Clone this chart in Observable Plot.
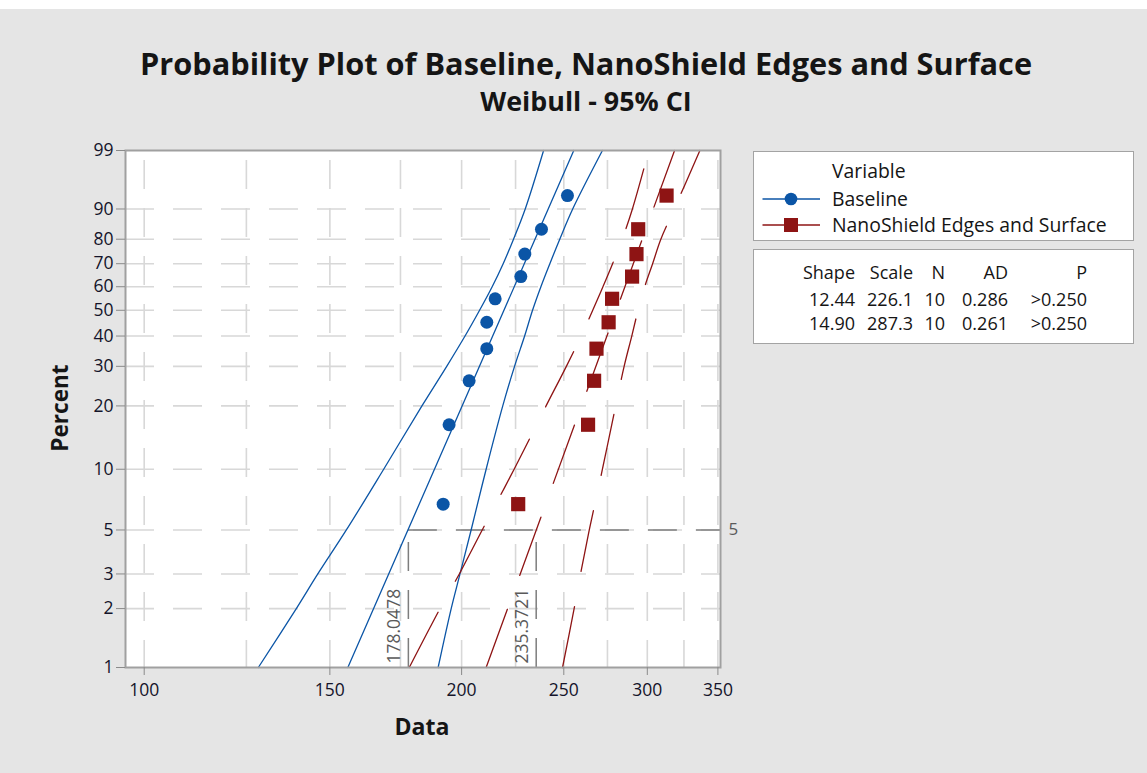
<!DOCTYPE html>
<html><head><meta charset="utf-8">
<script src="https://cdn.jsdelivr.net/npm/d3@7"></script>
<script src="https://cdn.jsdelivr.net/npm/@observablehq/plot@0.6"></script>
<style>
body{margin:0;background:#fff;font-family:"Open Sans",sans-serif;}
#wrap{position:relative;width:1147px;height:773px;overflow:hidden;background:#fff}
#panel{position:absolute;left:0px;top:9px;right:0;bottom:0;background:#e5e5e5}
.t{position:absolute;white-space:nowrap;line-height:1;color:#151515}
.c{transform:translate(-50%,-50%)}
.l{transform:translate(0,-50%)}
.r{transform:translate(-100%,-50%)}
.box{position:absolute;background:#fff;border:1.5px solid #a3a3a3;box-sizing:border-box}
</style></head>
<body><div id="wrap"><div id="panel"></div></div>
<script>
// ---------- data ----------
const titleText = "Probability Plot of Baseline, NanoShield Edges and Surface";
const subtitleText = "Weibull - 95% CI";
const seriesNames = ["Baseline", "NanoShield Edges and Surface"];
const plotPercents = [6.73, 16.35, 25.96, 35.58, 45.19, 54.81, 64.42, 74.04, 83.65, 93.27];
const baselineData = [192.1, 194.6, 203.3, 211.3, 211.3, 215.2, 227.6, 229.6, 238.1, 252.0];
const nanoData = [226.3, 263.6, 267.1, 268.5, 275.7, 277.8, 290.2, 293.0, 294.1, 312.9];
const fitPercents = [1, 99];
const baselineFit = [156.0, 255.5];
const nanoFit = [211.0, 318.4];
const ciPercents = [1, 2, 3, 5, 10, 20, 30, 40, 50, 60, 70, 80, 90, 99];
const baselineLower = [128.3, 139.4, 146.1, 155.5, 168.7, 183.4, 193.6, 201.5, 208.0, 213.8, 219.0, 224.0, 229.8, 239.2];
const baselineUpper = [190.0, 195.5, 199.3, 204.2, 211.0, 218.8, 224.5, 229.5, 233.5, 237.8, 242.5, 247.8, 254.9, 272.0];
const nanoLower = [178.4, 190.8, 199.0, 209.2, 224.3, 240.5, 251.4, 259.6, 266.3, 272.3, 278.1, 284.0, 290.4, 301.0];
const nanoUpper = [249.3, 255.7, 259.3, 264.3, 272.0, 280.0, 285.2, 290.0, 294.0, 298.3, 303.5, 309.0, 318.2, 336.5];
const refPercent = 5;
const refValues = [178.0478, 235.3721];
const yTickPercents = [1, 2, 3, 5, 10, 20, 30, 40, 50, 60, 70, 80, 90, 99];
const yGridPercents = [2, 3, 5, 10, 20, 30, 40, 50, 60, 70, 80, 90];
const xTicks = [100, 150, 200, 250, 300, 350];
const xGrid = [100, 125, 150, 175, 200, 225, 250, 275, 300, 325, 350];
const xDomain = [96, 352];
const statHeaders = ["Shape", "Scale", "N", "AD", "P"];
const statShape = ["12.44", "14.90"];
const statScale = ["226.1", "287.3"];
const statN = ["10", "10"];
const statAD = ["0.286", "0.261"];
const statP = [">0.250", ">0.250"];

// ---------- helpers ----------
const W = p => Math.log(-Math.log(1 - p / 100)); // Weibull probability transform
const blue = "#0b55a6", red = "#8e1414";
const pts = (ps, xs) => ps.map((p, i) => ({p, x: xs[i]}));
const yLabel = new Map(yTickPercents.map(p => [W(p), String(p)]));

const ciStyleB = {x: "x", y: d => W(d.p), stroke: blue, strokeWidth: 1.3, curve: "catmull-rom"};
const ciStyleR = {x: "x", y: d => W(d.p), stroke: red, strokeWidth: 1.3, curve: "catmull-rom", strokeDasharray: "62,36"};

const chart = Plot.plot({
  width: 1147, height: 773,
  marginLeft: 125, marginRight: 427, marginTop: 150, marginBottom: 106,
  x: {type: "log", domain: xDomain},
  y: {domain: [W(1), W(99)]},
  style: {position: "absolute", left: "0px", top: "0px", background: "transparent",
          fontFamily: "'Open Sans', sans-serif", fontSize: "17px", color: "#1a1a1a"},
  marks: [
    Plot.frame({fill: "white"}),
    Plot.ruleY(yGridPercents, {y: W, stroke: "#d8d8d8", strokeWidth: 1.6, strokeDasharray: "29,19"}),
    Plot.ruleX(xGrid, {stroke: "#d8d8d8", strokeWidth: 1.6, strokeDasharray: "29,19", strokeDashoffset: 38}),
    Plot.ruleY([refPercent], {y: W, x1: refValues[0], x2: xDomain[1], stroke: "#7d7d7d", strokeWidth: 1.5, strokeDasharray: "29,19"}),
    Plot.ruleX(refValues, {y1: W(1), y2: W(refPercent), stroke: "#7d7d7d", strokeWidth: 1.5, strokeDasharray: "29,19"}),
    Plot.text(refValues, {x: d => d, y: W(1), text: d => String(d), rotate: -90, textAnchor: "start",
      dx: -14, dy: -4, fill: "#5a5a5a", fontSize: 17.5}),
    Plot.text([refPercent], {y: W, frameAnchor: "right", text: d => String(d), textAnchor: "start",
      dx: 8, fill: "#5a5a5a", fontSize: 17}),
    Plot.line(pts(ciPercents, baselineLower), ciStyleB),
    Plot.line(pts(ciPercents, baselineUpper), ciStyleB),
    Plot.line(pts(fitPercents, baselineFit), ciStyleB),
    Plot.line(pts(ciPercents, nanoLower), ciStyleR),
    Plot.line(pts(ciPercents, nanoUpper), ciStyleR),
    Plot.line(pts(fitPercents, nanoFit), ciStyleR),
    Plot.dot(pts(plotPercents, baselineData), {x: "x", y: d => W(d.p), r: 6.5, fill: blue, stroke: "none"}),
    Plot.dot(pts(plotPercents, nanoData), {x: "x", y: d => W(d.p), r: 8, symbol: "square", fill: red, stroke: "none"}),
    Plot.frame({stroke: "#a0a0a0", strokeWidth: 2}),
    Plot.axisY(yTickPercents.map(W), {tickSize: 9, tickPadding: 3, tickFormat: d => yLabel.get(d),
      stroke: "#8a8a8a", fill: "#14142a", fontSize: 17.5, fontWeight: 500, label: null}),
    Plot.axisX(xTicks, {tickSize: 8, tickPadding: 8, tickFormat: d => String(d),
      stroke: "#8a8a8a", fill: "#14142a", fontSize: 17.5, fontWeight: 500, label: null})
  ]
});
const wrap = document.getElementById("wrap");
wrap.appendChild(chart);

function addText(txt, x, y, cls, size, weight) {
  const el = document.createElement("div");
  el.className = "t " + cls;
  el.textContent = txt;
  el.style.left = x + "px"; el.style.top = y + "px";
  el.style.fontSize = size + "px"; el.style.fontWeight = weight;
  wrap.appendChild(el);
  return el;
}
function fit(el, target) {
  const s = parseFloat(el.style.fontSize);
  const ns = s * target / el.offsetWidth;
  el.style.fontSize = ns + "px";
  return ns;
}
function addBox(x, y, w, h) {
  const b = document.createElement("div");
  b.className = "box";
  Object.assign(b.style, {left: x + "px", top: y + "px", width: w + "px", height: h + "px"});
  wrap.appendChild(b);
}

// titles
fit(addText(titleText, 586, 63, "c", 30, 700), 892);
fit(addText(subtitleText, 586, 101, "c", 20, 700), 212);
const yl = addText("Percent", 60, 408, "c", 21, 700);
fit(yl, 87);
yl.style.transform = "translate(-50%,-50%) rotate(-90deg)";
fit(addText("Data", 422, 727, "c", 21, 700), 55);

// legend box
addBox(753, 151, 381, 90);
const lx = 832;
const longLab = addText(seriesNames[1], lx, 225, "l", 16, 500);
const fs = fit(longLab, 275);
addText("Variable", lx, 171, "l", fs, 500);
addText(seriesNames[0], lx, 199, "l", fs, 500);
const sw = document.createElementNS("http://www.w3.org/2000/svg", "svg");
sw.setAttribute("width", 70); sw.setAttribute("height", 50);
Object.assign(sw.style, {position: "absolute", left: "758px", top: "187px"});
sw.innerHTML =
  `<line x1="4.5" x2="62" y1="12" y2="12" stroke="${blue}" stroke-width="1.4"/>` +
  `<circle cx="33" cy="12" r="6.3" fill="${blue}"/>` +
  `<line x1="4.5" x2="62" y1="38" y2="38" stroke="${red}" stroke-width="1.4"/>` +
  `<rect x="26" y="31" width="14" height="14" fill="${red}"/>`;
wrap.appendChild(sw);

// stats box
addBox(753, 249, 381, 95);
const colRight = [855, 913, 945, 1008, 1087];
const rows = [statHeaders,
  [statShape[0], statScale[0], statN[0], statAD[0], statP[0]],
  [statShape[1], statScale[1], statN[1], statAD[1], statP[1]]];
const rowY = [271.5, 299, 323];
const sfs = fs * 0.93;
rows.forEach((r, ri) => r.forEach((v, ci) => addText(v, colRight[ci], rowY[ri], "r", sfs, 500)));
</script></body></html>
